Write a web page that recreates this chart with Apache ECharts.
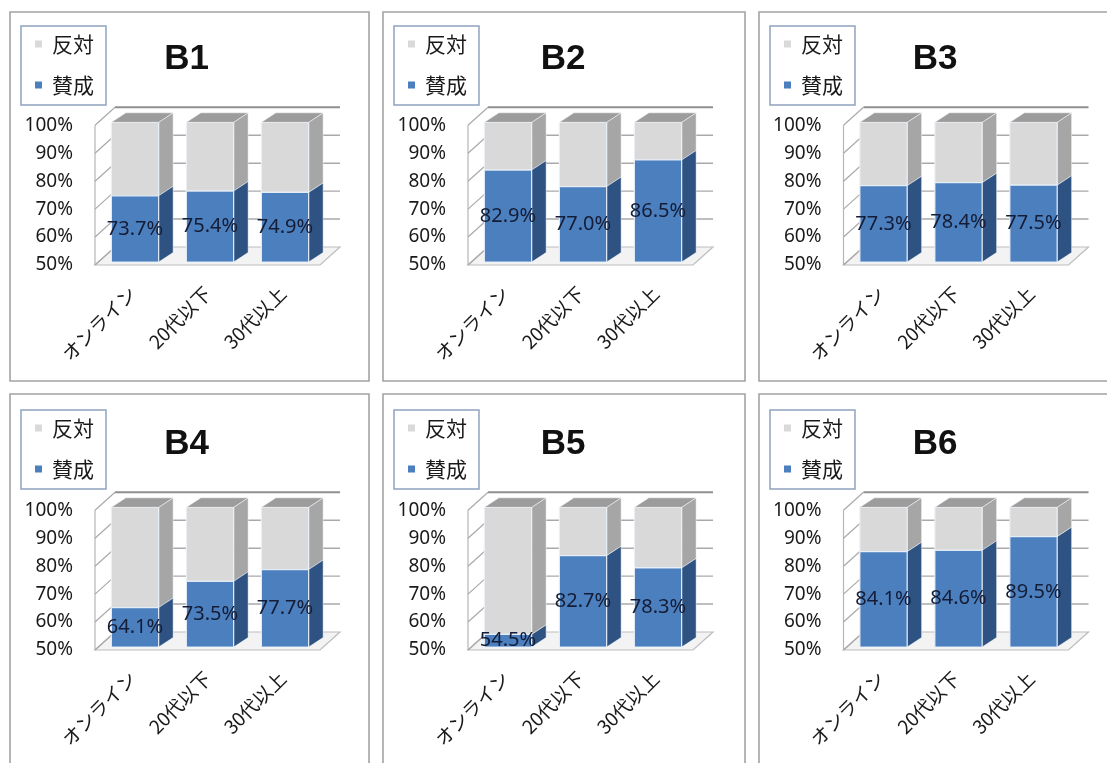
<!DOCTYPE html>
<html>
<head>
<meta charset="utf-8">
<script src="https://cdn.jsdelivr.net/npm/echarts@6/dist/echarts.min.js"></script>
<style>
  html, body { margin: 0; padding: 0; background: #ffffff; }
  #chart { width: 1107px; height: 763px; }
</style>
</head>
<body>
<div id="chart"></div>
<script>
// Survey results: share of 賛成 / 反対 per respondent group, six questions (B1–B6)
const categories = ['オンライン', '20代以下', '30代以上'];
const panelNames = ['B1', 'B2', 'B3', 'B4', 'B5', 'B6'];
const yTicks = [50, 60, 70, 80, 90, 100];

const approveB1 = [73.7, 75.4, 74.9];
const approveB2 = [82.9, 77.0, 86.5];
const approveB3 = [77.3, 78.4, 77.5];
const approveB4 = [64.1, 73.5, 77.7];
const approveB5 = [54.5, 82.7, 78.3];
const approveB6 = [84.1, 84.6, 89.5];

const opposeB1 = [26.3, 24.6, 25.1];
const opposeB2 = [17.1, 23.0, 13.5];
const opposeB3 = [22.7, 21.6, 22.5];
const opposeB4 = [35.9, 26.5, 22.3];
const opposeB5 = [45.5, 17.3, 21.7];
const opposeB6 = [15.9, 15.4, 10.5];

const approveSets = [approveB1, approveB2, approveB3, approveB4, approveB5, approveB6];
const opposeSets = [opposeB1, opposeB2, opposeB3, opposeB4, opposeB5, opposeB6];

// ---- panel layout (pixels) ----
const COLS = [
  { x: 10,  w: 359, legendX: 21,  titleX: 186.5, plotX: 95 },
  { x: 383, w: 362, legendX: 394, titleX: 563,   plotX: 468 },
  { x: 759, w: 370, legendX: 770, titleX: 935,   plotX: 843.5 }
];
const ROWS = [
  { y: 12,  h: 369, legendY: 26,  titleY: 59.5, plotTop: 125.3, plotBottom: 265 },
  { y: 394, h: 400, legendY: 410, titleY: 444,  plotTop: 510.3, plotBottom: 650 }
];
const PLOT_W = 225;

// pseudo-3D geometry
const WALL_DX = 20, WALL_DY = -18;     // depth of walls / floor
const BAR_OFF_X = 2.5, BAR_OFF_Y = -3; // bar front plane offset from wall front
const BAR_DX = 14.5, BAR_DY = -9.5;    // bar depth
const BAR_RATIO = 0.63;

const FONT_JP = '"Noto Sans CJK JP", "Noto Sans", sans-serif';
const FONT_NUM = '"Noto Sans", "Noto Sans CJK JP", sans-serif';

const COLORS = {
  approve: { front: '#4c7fbe', side: '#2e5281', top: '#3d6aa0' },
  oppose:  { front: '#d9d9d9', side: '#a6a6a6', top: '#9c9c9c' }
};

function wallRenderer(params, api) {
  const cs = params.coordSys;
  const v = api.value(1);
  const y = api.coord([0, v])[1];
  const x0 = cs.x, x1 = cs.x + cs.width;
  const children = [];
  if (v === yTicks[0]) {
    children.push({
      type: 'polygon',
      shape: { points: [[x0, y], [x1, y], [x1 + WALL_DX, y + WALL_DY], [x0 + WALL_DX, y + WALL_DY]] },
      style: { fill: '#f3f3f3', stroke: '#bdbdbd', lineWidth: 1.2 }
    });
    const yTop = api.coord([0, yTicks[yTicks.length - 1]])[1];
    children.push({
      type: 'line',
      shape: { x1: x0, y1: y, x2: x0, y2: yTop },
      style: { stroke: '#b5b5b5', lineWidth: 1.2 }
    });
  } else {
    const top = v === yTicks[yTicks.length - 1];
    children.push({
      type: 'line',
      shape: { x1: x0 + WALL_DX, y1: y + WALL_DY, x2: x1 + WALL_DX, y2: y + WALL_DY },
      style: { stroke: top ? '#8f8f8f' : '#a9a9a9', lineWidth: top ? 2 : 1.4 }
    });
  }
  children.push({
    type: 'line',
    shape: { x1: x0, y1: y, x2: x0 + WALL_DX, y2: y + WALL_DY },
    style: { stroke: '#a9a9a9', lineWidth: 1.2 }
  });
  return { type: 'group', children };
}

// one stacked segment: front face, right side face, optional top face and value label
function barRenderer(palette, withTop, withLabel) {
  return function (params, api) {
    const c = api.value(0), lo = api.value(1), hi = api.value(2);
    const band = api.size([1, 0])[0];
    const w = band * BAR_RATIO;
    const pLo = api.coord([c, lo]);
    const pHi = api.coord([c, hi]);
    const xl = pLo[0] - w / 2 + BAR_OFF_X, xr = xl + w;
    const yl = pLo[1] + BAR_OFF_Y, yh = pHi[1] + BAR_OFF_Y;
    const children = [
      {
        type: 'polygon',
        shape: { points: [[xr, yl], [xr + BAR_DX, yl + BAR_DY], [xr + BAR_DX, yh + BAR_DY], [xr, yh]] },
        style: { fill: palette.side, stroke: 'rgba(255,255,255,0.6)', lineWidth: 0.8 }
      },
      {
        type: 'rect',
        shape: { x: xl, y: yh, width: w, height: yl - yh },
        style: { fill: palette.front, stroke: 'rgba(235,242,250,0.9)', lineWidth: 1.2 }
      }
    ];
    if (withTop) {
      children.push({
        type: 'polygon',
        shape: { points: [[xl, yh], [xr, yh], [xr + BAR_DX, yh + BAR_DY], [xl + BAR_DX, yh + BAR_DY]] },
        style: { fill: palette.top, stroke: 'rgba(255,255,255,0.6)', lineWidth: 0.8 }
      });
    }
    if (withLabel) {
      children.push({
        type: 'text',
        x: (xl + xr) / 2,
        y: (yl + yh) / 2,
        z2: 10,
        style: {
          text: hi.toFixed(1) + '%',
          fill: '#141c36',
          font: '20px ' + FONT_NUM,
          align: 'center',
          verticalAlign: 'middle'
        }
      });
    }
    return { type: 'group', children };
  };
}

const grid = [], xAxis = [], yAxis = [], series = [], legend = [], title = [], graphic = [];

panelNames.forEach((name, i) => {
  const col = COLS[i % 3], row = ROWS[Math.floor(i / 3)];

  graphic.push({
    type: 'rect',
    silent: true,
    z: -10,
    shape: { x: col.x, y: row.y, width: col.w, height: row.h },
    style: { fill: '#ffffff', stroke: '#a3a3a3', lineWidth: 1.6 }
  });

  grid.push({
    left: col.plotX,
    top: row.plotTop,
    width: PLOT_W,
    height: row.plotBottom - row.plotTop,
    containLabel: false
  });

  xAxis.push({
    type: 'category',
    gridIndex: i,
    data: categories,
    axisLine: { show: false },
    axisTick: { show: false },
    splitLine: { show: false },
    axisLabel: {
      interval: 0,
      rotate: 45,
      margin: 25,
      fontSize: 19,
      color: '#1a1a1a',
      fontFamily: FONT_JP
    }
  });

  yAxis.push({
    type: 'value',
    gridIndex: i,
    min: 50,
    max: 100,
    interval: 10,
    axisLine: { show: false },
    axisTick: { show: false },
    splitLine: { show: false },
    axisLabel: {
      formatter: '{value}%',
      margin: 22,
      fontSize: 19,
      color: '#1a1a1a',
      fontFamily: FONT_NUM
    }
  });

  const approve = approveSets[i], oppose = opposeSets[i];

  series.push({
    type: 'custom',
    xAxisIndex: i,
    yAxisIndex: i,
    silent: true,
    z: 1,
    data: yTicks.map(v => [0, v]),
    renderItem: wallRenderer
  });

  series.push({
    type: 'custom',
    name: '反対',
    xAxisIndex: i,
    yAxisIndex: i,
    z: 2,
    itemStyle: { color: COLORS.oppose.front },
    data: oppose.map((v, k) => [k, approve[k], approve[k] + v]),
    renderItem: barRenderer(COLORS.oppose, true, false)
  });

  series.push({
    type: 'custom',
    name: '賛成',
    xAxisIndex: i,
    yAxisIndex: i,
    z: 3,
    itemStyle: { color: COLORS.approve.front },
    data: approve.map((v, k) => [k, 50, v]),
    renderItem: barRenderer(COLORS.approve, false, true)
  });

  legend.push({
    left: col.legendX,
    top: row.legendY,
    orient: 'vertical',
    data: ['反対', '賛成'],
    icon: 'rect',
    itemWidth: 7,
    itemHeight: 7,
    itemGap: 17,
    padding: [6, 12, 8, 14],
    borderColor: '#8fa3bd',
    borderWidth: 1.5,
    selectedMode: false,
    textStyle: {
      fontSize: 21,
      lineHeight: 24,
      color: '#1a1a1a',
      fontFamily: FONT_JP,
      padding: [0, 0, 0, 5]
    }
  });

  title.push({
    text: name,
    left: col.titleX,
    top: row.titleY - 19,
    textAlign: 'center',
    padding: 0,
    textStyle: {
      fontSize: 35,
      lineHeight: 38,
      fontWeight: 'bold',
      color: '#111111',
      fontFamily: '"Liberation Sans", Arial, sans-serif'
    }
  });
});

const chart = echarts.init(document.getElementById('chart'), null, { renderer: 'canvas' });
chart.setOption({
  animation: false,
  backgroundColor: '#ffffff',
  graphic,
  title,
  legend,
  grid,
  xAxis,
  yAxis,
  series
});
</script>
</body>
</html>
